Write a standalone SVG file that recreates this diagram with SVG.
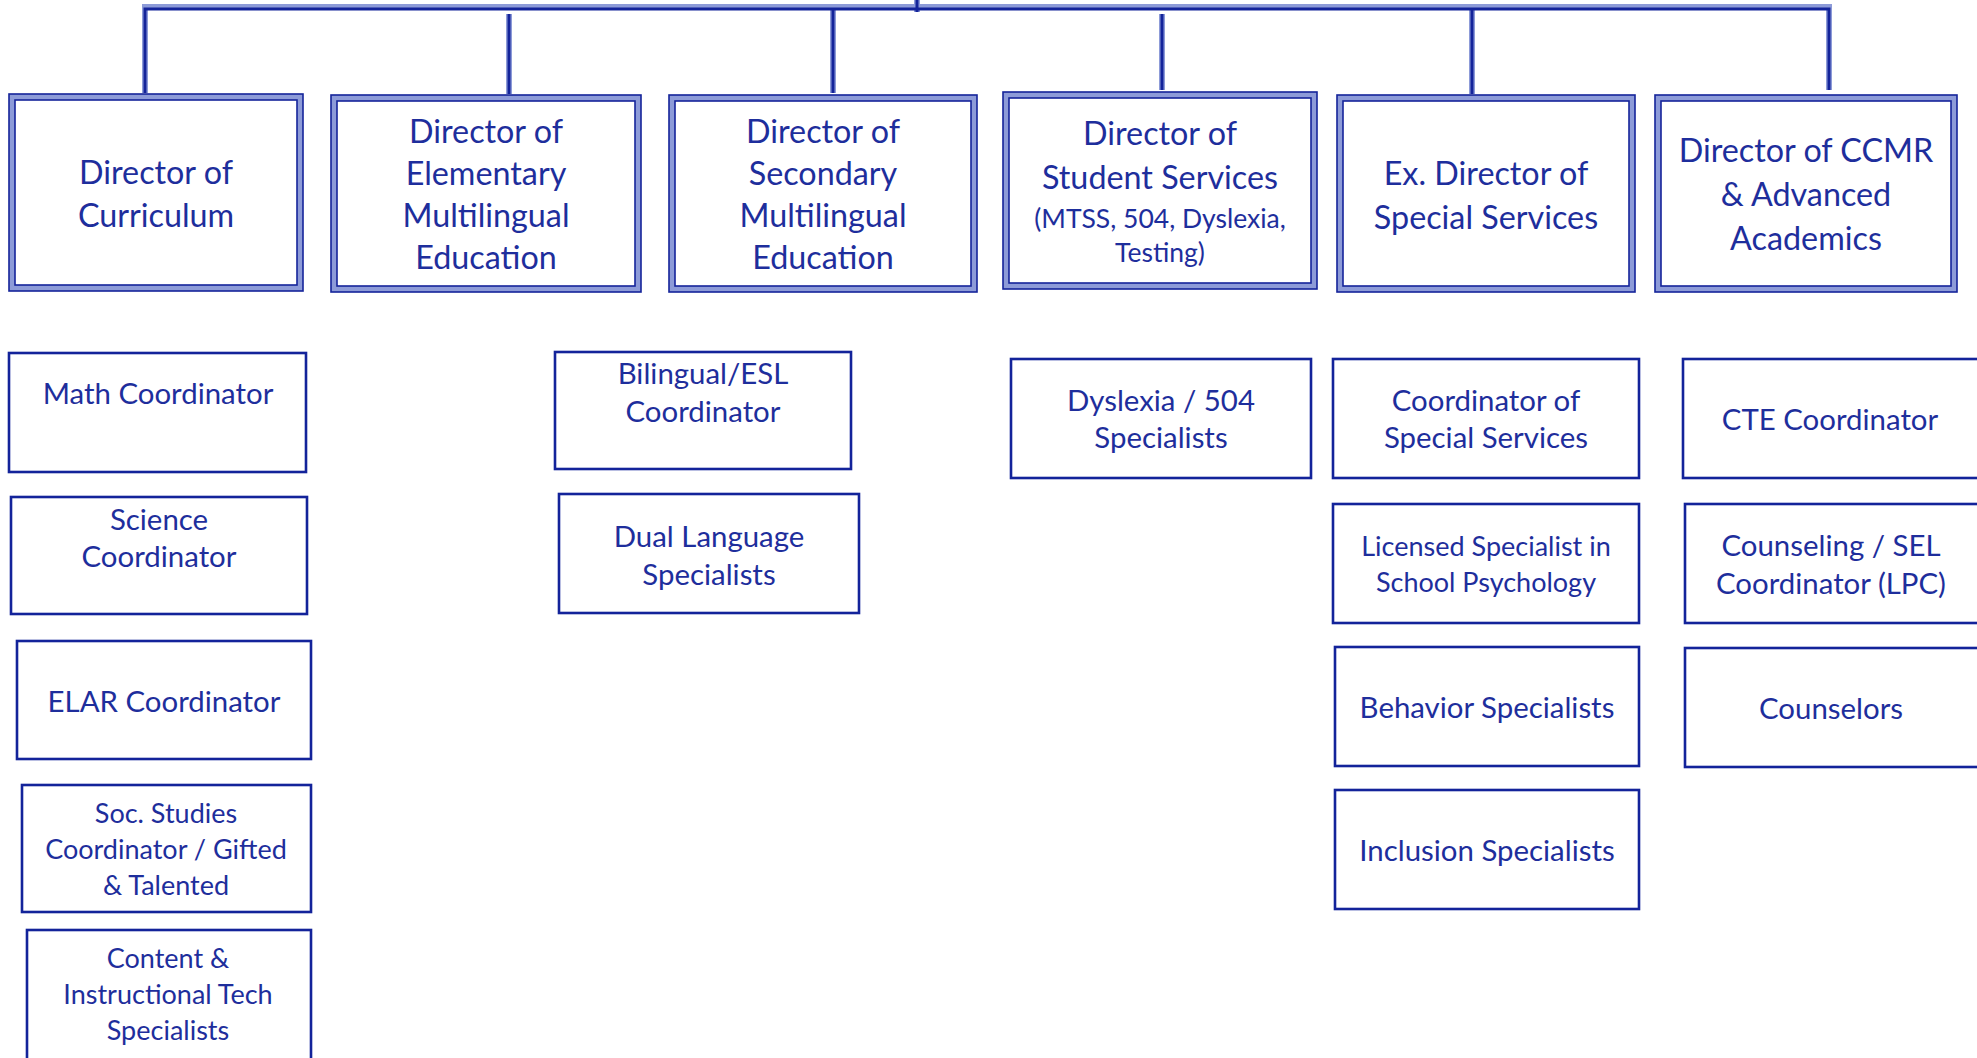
<svg xmlns="http://www.w3.org/2000/svg" width="1977" height="1058" viewBox="0 0 1977 1058">
<style>
  text { font-family: Lato, "Liberation Sans", sans-serif; fill: #1e2e9c; text-anchor: middle; }
  .dt { font-size: 32.3px; }
  .ds { font-size: 26.5px; }
  .st { font-size: 29.4px; }
  .ss { font-size: 27px; }
  .sm { font-size: 27px; }
  .band { fill: none; stroke: #8d9bd8; stroke-width: 6; }
  .dline { fill: none; stroke: #14249a; stroke-width: 1.6; }
  .sub { fill: #ffffff; stroke: #13239a; stroke-width: 2.6; }
  .cl { fill: none; stroke: #8d9bd8; stroke-width: 6; }
  .cd { fill: none; stroke: #14249a; stroke-width: 3; }
</style>
<rect x="0" y="0" width="1977" height="1058" fill="#ffffff"/>
<g id="connectors">
  <path class="cl" d="M145,93 V7 H1829 V90"/>
  <path class="cl" d="M509,14 V94 M833,8 V93 M1162,14 V90 M1472,8 V94 M917,0 V12"/>
  <path class="cd" d="M145,93 V9 H1829 V90"/>
  <path class="cd" d="M509,14 V94 M833,9 V93 M1162,14 V90 M1472,9 V94 M917,0 V12"/>
</g>
<g id="dir-curriculum">
  <rect class="band" x="12" y="97" width="288" height="191"/>
  <rect class="dline" x="9" y="94" width="294" height="197"/>
  <rect class="dline" x="15" y="100" width="282" height="185"/>
  <text class="dt" x="156"><tspan x="156" y="184">Director of</tspan><tspan x="156" y="227">Curriculum</tspan></text>
</g>
<g id="dir-elem-ml">
  <rect class="band" x="334" y="98" width="304" height="191"/>
  <rect class="dline" x="331" y="95" width="310" height="197"/>
  <rect class="dline" x="337" y="101" width="298" height="185"/>
  <text class="dt" x="486"><tspan x="486" y="143">Director of</tspan><tspan x="486" y="185">Elementary</tspan><tspan x="486" y="227">Multilingual</tspan><tspan x="486" y="269">Education</tspan></text>
</g>
<g id="dir-sec-ml">
  <rect class="band" x="672" y="98" width="302" height="191"/>
  <rect class="dline" x="669" y="95" width="308" height="197"/>
  <rect class="dline" x="675" y="101" width="296" height="185"/>
  <text class="dt" x="823"><tspan x="823" y="143">Director of</tspan><tspan x="823" y="185">Secondary</tspan><tspan x="823" y="227">Multilingual</tspan><tspan x="823" y="269">Education</tspan></text>
</g>
<g id="dir-student-services">
  <rect class="band" x="1006" y="95" width="308" height="191"/>
  <rect class="dline" x="1003" y="92" width="314" height="197"/>
  <rect class="dline" x="1009" y="98" width="302" height="185"/>
  <text class="dt" x="1160"><tspan x="1160" y="145">Director of</tspan><tspan x="1160" y="189">Student Services</tspan></text>
  <text class="ds" x="1160"><tspan x="1160" y="228">(MTSS, 504, Dyslexia,</tspan><tspan x="1160" y="262">Testing)</tspan></text>
</g>
<g id="dir-special-services">
  <rect class="band" x="1340" y="98" width="292" height="191"/>
  <rect class="dline" x="1337" y="95" width="298" height="197"/>
  <rect class="dline" x="1343" y="101" width="286" height="185"/>
  <text class="dt" x="1486"><tspan x="1486" y="185">Ex. Director of</tspan><tspan x="1486" y="229">Special Services</tspan></text>
</g>
<g id="dir-ccmr">
  <rect class="band" x="1658" y="98" width="296" height="191"/>
  <rect class="dline" x="1655" y="95" width="302" height="197"/>
  <rect class="dline" x="1661" y="101" width="290" height="185"/>
  <text class="dt" x="1806"><tspan x="1806" y="162">Director of CCMR</tspan><tspan x="1806" y="206">&amp; Advanced</tspan><tspan x="1806" y="250">Academics</tspan></text>
</g>
<g id="math">
  <rect class="sub" x="9" y="353" width="297" height="119"/>
  <text class="st" x="158" y="404">Math Coordinator</text>
</g>
<g id="science">
  <rect class="sub" x="11" y="497" width="296" height="117"/>
  <text class="st" x="159"><tspan x="159" y="530">Science</tspan><tspan x="159" y="567">Coordinator</tspan></text>
</g>
<g id="elar">
  <rect class="sub" x="17" y="641" width="294" height="118"/>
  <text class="st" x="164" y="712">ELAR Coordinator</text>
</g>
<g id="soc-studies">
  <rect class="sub" x="22" y="785" width="289" height="127"/>
  <text class="sm" x="166"><tspan x="166" y="823">Soc. Studies</tspan><tspan x="166" y="859">Coordinator / Gifted</tspan><tspan x="166" y="895">&amp; Talented</tspan></text>
</g>
<g id="content-tech">
  <rect class="sub" x="27" y="930" width="284" height="132"/>
  <text class="sm" x="168"><tspan x="168" y="968">Content &amp;</tspan><tspan x="168" y="1004">Instructional Tech</tspan><tspan x="168" y="1040">Specialists</tspan></text>
</g>
<g id="bilingual-esl">
  <rect class="sub" x="555" y="352" width="296" height="117"/>
  <text class="st" x="703"><tspan x="703" y="384">Bilingual/ESL</tspan><tspan x="703" y="422">Coordinator</tspan></text>
</g>
<g id="dual-language">
  <rect class="sub" x="559" y="494" width="300" height="119"/>
  <text class="st" x="709"><tspan x="709" y="547">Dual Language</tspan><tspan x="709" y="585">Specialists</tspan></text>
</g>
<g id="dyslexia-504">
  <rect class="sub" x="1011" y="359" width="300" height="119"/>
  <text class="st" x="1161"><tspan x="1161" y="411">Dyslexia / 504</tspan><tspan x="1161" y="448">Specialists</tspan></text>
</g>
<g id="coord-special-services">
  <rect class="sub" x="1333" y="359" width="306" height="119"/>
  <text class="st" x="1486"><tspan x="1486" y="411">Coordinator of</tspan><tspan x="1486" y="448">Special Services</tspan></text>
</g>
<g id="lssp">
  <rect class="sub" x="1333" y="504" width="306" height="119"/>
  <text class="ss" x="1486"><tspan x="1486" y="556">Licensed Specialist in</tspan><tspan x="1486" y="592">School Psychology</tspan></text>
</g>
<g id="behavior">
  <rect class="sub" x="1335" y="647" width="304" height="119"/>
  <text class="st" x="1487" y="718">Behavior Specialists</text>
</g>
<g id="inclusion">
  <rect class="sub" x="1335" y="790" width="304" height="119"/>
  <text class="st" x="1487" y="861">Inclusion Specialists</text>
</g>
<g id="cte">
  <rect class="sub" x="1683" y="359" width="300" height="119"/>
  <text class="st" x="1830" y="430">CTE Coordinator</text>
</g>
<g id="counseling-sel">
  <rect class="sub" x="1685" y="504" width="298" height="119"/>
  <text class="st" x="1831"><tspan x="1831" y="556">Counseling / SEL</tspan><tspan x="1831" y="594">Coordinator (LPC)</tspan></text>
</g>
<g id="counselors">
  <rect class="sub" x="1685" y="648" width="298" height="119"/>
  <text class="st" x="1831" y="719">Counselors</text>
</g>
</svg>
